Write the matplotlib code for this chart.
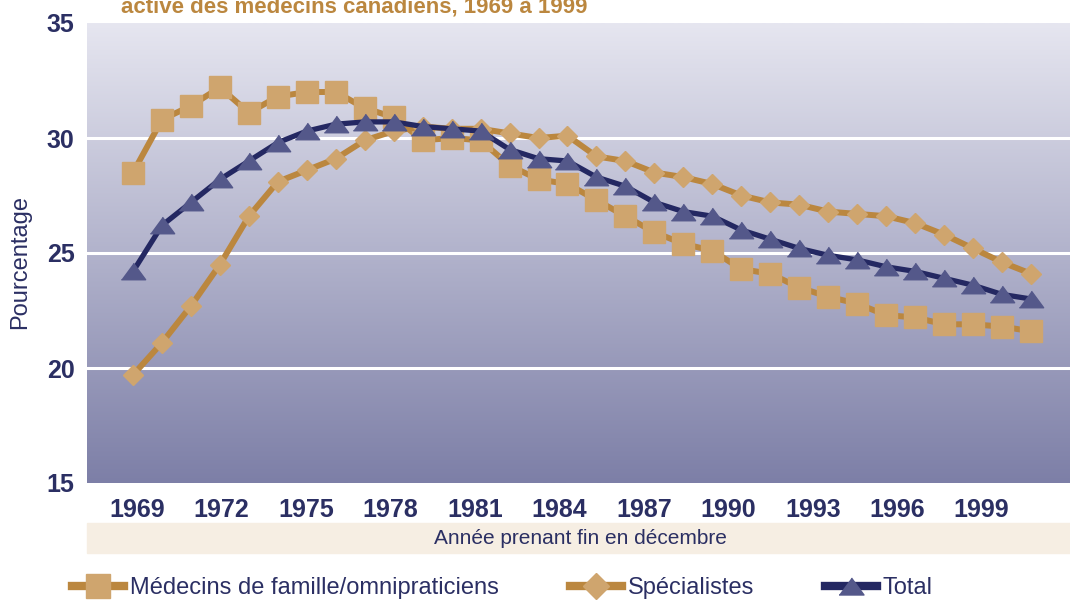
import matplotlib
matplotlib.use("Agg")
import matplotlib.pyplot as plt
import numpy as np
from matplotlib.colors import LinearSegmentedColormap
from matplotlib.lines import Line2D
from matplotlib.patches import Rectangle

plt.rcParams['font.family'] = ['Liberation Sans', 'DejaVu Sans']

# Data
years = list(range(1969, 2001))
tick_labels = ['1969', '1972', '1975', '1978', '1981', '1984', '1987', '1990', '1993', '1996', '1999']

famille = [28.5, 30.8, 31.4, 32.2, 31.1, 31.8, 32.0, 32.0, 31.3, 30.9, 29.9, 30.0,
           29.9, 28.8, 28.2, 28.0, 27.3, 26.6, 25.9, 25.4, 25.1, 24.3, 24.1, 23.5,
           23.1, 22.8, 22.3, 22.2, 21.9, 21.9, 21.8, 21.6]
specialistes = [19.7, 21.1, 22.7, 24.5, 26.6, 28.1, 28.6, 29.1, 29.9, 30.3, 30.5, 30.4,
                30.4, 30.2, 30.0, 30.1, 29.2, 29.0, 28.5, 28.3, 28.0, 27.5, 27.2, 27.1,
                26.8, 26.7, 26.6, 26.3, 25.8, 25.2, 24.6, 24.1]
total = [24.2, 26.2, 27.2, 28.2, 29.0, 29.8, 30.3, 30.6, 30.7, 30.7, 30.5, 30.4,
         30.3, 29.5, 29.1, 29.0, 28.3, 27.9, 27.2, 26.8, 26.6, 26.0, 25.6, 25.2,
         24.9, 24.7, 24.4, 24.2, 23.9, 23.6, 23.2, 23.0]

navy = '#2b2f63'
gold_line = '#bb873f'
gold_fill = '#cfa56e'
tri_fill = '#54588a'
tri_line = '#242862'

fig = plt.figure(figsize=(10.70, 6.01), dpi=100)
ax = fig.add_axes([87 / 1070, 1 - 483 / 601, 1 - 87 / 1070, (483 - 23) / 601])

x = np.arange(len(years))
xlim = (-1.59, 32.35)

# gradient background, light at top
cmap = LinearSegmentedColormap.from_list('bg', ['#e6e6f0', '#7d7fa7'])
grad = np.linspace(0, 1, 256).reshape(-1, 1)
ax.imshow(grad, cmap=cmap, aspect='auto', origin='upper',
          extent=(xlim[0], xlim[1], 15, 35), zorder=0)
ax.set_xlim(*xlim)
ax.set_ylim(15, 35)

for yv in [20, 25, 30]:
    ax.axhline(yv, color='white', lw=2.2, zorder=1)

tri = [(-1, -0.68), (1, -0.68), (0, 0.68)]
ax.plot(x, famille, color=gold_line, lw=4.3, marker='s', ms=16,
        mfc=gold_fill, mec=gold_fill, zorder=3)
ax.plot(x, specialistes, color=gold_line, lw=4.3, marker='D', ms=10.5,
        mfc=gold_fill, mec=gold_fill, zorder=4)
ax.plot(x, total, color=tri_line, lw=3.8, marker=tri, ms=17.5,
        mfc=tri_fill, mec=tri_fill, zorder=5)

ax.set_yticks([15, 20, 25, 30, 35])
ax.set_xticks(np.linspace(0.14, 29.3, len(tick_labels)))
ax.set_xticklabels(tick_labels)
ax.tick_params(length=0, labelsize=18, labelcolor=navy)
ax.tick_params(axis='x', pad=11)
ax.tick_params(axis='y', pad=9)
for lab in ax.get_xticklabels() + ax.get_yticklabels():
    lab.set_fontweight('bold')
for s in ax.spines.values():
    s.set_visible(False)

# x label band
fig.patches.append(Rectangle((87 / 1070, 1 - 553 / 601), 1 - 87 / 1070, 30 / 601,
                             transform=fig.transFigure, color='#f6eee3', zorder=0))
fig.text(580 / 1070, 1 - 538 / 601, 'Année prenant fin en décembre', ha='center', va='center',
         fontsize=15, color=navy)
fig.text(20 / 1070, 1 - 262 / 601, 'Pourcentage', rotation=90, ha='center', va='center',
         fontsize=17, color=navy)

# cut-off title at the top
fig.text(121 / 1070, 1 - 13 / 601, 'active des médecins canadiens, 1969 à 1999',
         ha='left', va='baseline', fontsize=16, fontweight='bold', color='#bb873f')

handles = [
    Line2D([], [], color=gold_line, lw=6, marker='s', ms=17, mfc=gold_fill, mec=gold_fill),
    Line2D([], [], color=gold_line, lw=6, marker='D', ms=13, mfc=gold_fill, mec=gold_fill),
    Line2D([], [], color=tri_line, lw=6, marker=tri, ms=18, mfc=tri_fill, mec=tri_fill),
]
labels = ['Médecins de famille/omnipraticiens', 'Spécialistes', 'Total']
leg = fig.legend(handles, labels, loc='center left', bbox_to_anchor=(72 / 1070, 1 - 588 / 601),
                 ncol=3, frameon=False, fontsize=17, handlelength=2.2, handletextpad=0.25,
                 columnspacing=3.0, borderaxespad=0, borderpad=0)
for t in leg.get_texts():
    t.set_color(navy)

fig.savefig('out.png', dpi=100)
